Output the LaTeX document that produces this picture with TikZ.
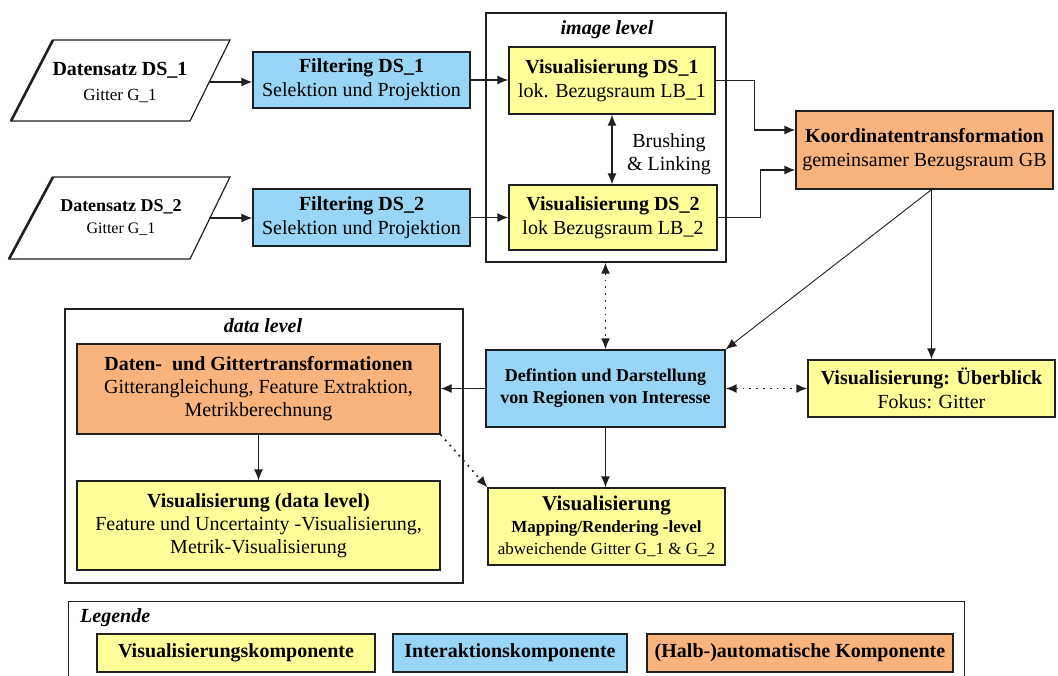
\documentclass[tikz,border=0pt]{standalone}
\usepackage{fontspec}
\setmainfont{Liberation Serif}
\usetikzlibrary{arrows.meta,calc}
\definecolor{cyel}{HTML}{FFFF99}
\definecolor{cblu}{HTML}{99D5F7}
\definecolor{cora}{HTML}{F9B47D}
\definecolor{cline}{HTML}{202020}
\newcommand{\fs}[2]{\fontsize{#1}{#2}\selectfont}
\tikzset{
  base/.style={draw=cline, line width=1.3pt, align=center, inner sep=0pt, font=\fs{20}{24}},
  yel/.style={base, fill=cyel},
  blu/.style={base, fill=cblu},
  ora/.style={base, fill=cora},
  frame/.style={draw=cline, line width=1.2pt},
  arr/.style={draw=cline, line width=1.3pt, -{Latex[length=11pt,width=9pt]}},
  darr/.style={draw=cline, line width=1.3pt, {Latex[length=11pt,width=9pt]}-{Latex[length=11pt,width=9pt]}},
  dotted2/.style={line width=1.6pt, dash pattern=on 1.8pt off 5pt},
  ttl/.style={font=\fs{20}{24}\bfseries\itshape, inner sep=0pt},
  txt/.style={inner sep=0pt, align=center}
}
\begin{document}
\begin{tikzpicture}[x=1pt,y=-1pt]
\useasboundingbox (0,0) rectangle (1058,675);
\clip (0,0) rectangle (1058,675);
\fill[white] (0,0) rectangle (1058,675);

% group frames
\node[frame, minimum width=240pt, minimum height=249pt] (il) at (606,137.5) {};
\node[ttl] (ilt) at (607,30) {image level};
\node[frame, minimum width=398pt, minimum height=274pt] (dl) at (264,446) {};
\node[ttl] (dlt) at (263,326) {data level};

% data sets
\draw[cline, line width=1.2pt] (11,121) -- (53,40) -- (230,40) -- (190,121) -- cycle;
\draw[cline, line width=2.6pt] (11,121) -- (53,40);
\node[txt, font=\fs{17}{25}] (ds1) at (120,82) {{\fs{20}{25}\bfseries Datensatz DS\_1}\\Gitter G\_1};
\coordinate (ds1r) at (209,82);
\draw[cline, line width=1.2pt] (9,259) -- (53,177) -- (230,177) -- (190,259) -- cycle;
\draw[cline, line width=2.6pt] (9,259) -- (53,177);
\node[txt, font=\fs{16}{22}] (ds2) at (121,218) {{\fs{18}{22}\bfseries Datensatz DS\_2}\\Gitter G\_1};
\coordinate (ds2r) at (209,218);

% filtering
\node[blu, minimum width=217pt, minimum height=56pt] (f1) at (361.5,80) {\textbf{Filtering DS\_1}\\Selektion und Projektion};
\node[blu, minimum width=217pt, minimum height=57pt] (f2) at (361.5,217.5) {\textbf{Filtering DS\_2}\\Selektion und Projektion};

% visualisation image level
\node[yel, minimum width=206pt, minimum height=67pt] (v1) at (612,80.5) {\textbf{Visualisierung DS\_1}\\lok. Bezugsraum LB\_1};
\node[yel, minimum width=208pt, minimum height=65pt] (v2) at (613,217.5) {\textbf{Visualisierung DS\_2}\\lok Bezugsraum LB\_2};
\node[txt, font=\fs{20}{23}] (bl) at (669,154) {Brushing\\\& Linking};

% Koordinatentransformation
\node[ora, minimum width=257pt, minimum height=78pt] (kt) at (924.5,150) {\textbf{Koordinatentransformation}\\gemeinsamer Bezugsraum GB};

% Ueberblick
\node[yel, minimum width=247pt, minimum height=57pt] (ub) at (931.5,388.5) {\textbf{Visualisierung: Überblick}\\Fokus: Gitter};

% Definition
\node[blu, minimum width=239pt, minimum height=77pt, font=\fs{18}{22}\bfseries] (def) at (605.5,388.5) {Defintion und Darstellung\\von Regionen von Interesse};

% data level
\node[ora, minimum width=363pt, minimum height=90pt, font=\fs{20}{23}] (dg) at (258.5,389) {\textbf{Daten-\ \ und Gittertransformationen}\\Gitterangleichung, Feature Extraktion,\\Metrikberechnung};
\node[yel, minimum width=363pt, minimum height=89pt, font=\fs{20}{23}] (vd) at (258.5,525.5) {\textbf{Visualisierung (data level)}\\Feature und Uncertainty -Visualisierung,\\Metrik-Visualisierung};

% Mapping
\node[yel, minimum width=237pt, minimum height=77pt, font=\fs{17}{22}] (vm) at (606.5,526.5) {{\fs{21}{22}\bfseries Visualisierung}\\\textbf{Mapping/Rendering -level}\\abweichende Gitter G\_1 \& G\_2};

% connectors
\draw[arr] (ds1r) -- (ds1r -| f1.west);
\draw[arr] (ds2r) -- (ds2r -| f2.west);
\draw[arr] (f1.east) -- (f1.east -| v1.west);
\draw[arr] (f2.east) -- (f2.east -| v2.west);
\draw[darr] (v1.south) -- (v1.south |- v2.north);
\draw[arr] (v1.east) -- ++(39,0) |- ($(kt.west)+(0,-20)$);
\draw[arr] (v2.east) -- ++(43,0) |- ($(kt.west)+(0,20)$);
\draw[arr] (ub.north |- kt.south) -- (ub.north);
\draw[arr, line width=0.9pt] (ub.north |- kt.south) -- (def.north east);
\draw[darr, dotted2] (il.south -| def.north) -- (def.north);
\draw[darr, dotted2] (def.east) -- (def.east -| ub.west);
\draw[arr] (def.west) -- (def.west -| dg.east);
\draw[arr] (def.south) -- (def.south |- vm.north);
\draw[arr] (dg.south) -- (vd.north);
\draw[arr, dotted2] (dg.south east) -- (vm.north west);

% legend
\node[frame, minimum width=896pt, minimum height=110pt, anchor=north west] (lg) at (68,601) {};
\node[txt, font=\fs{20}{24}\bfseries\itshape, anchor=west] (lgt) at (80,618) {Legende};
\node[yel, minimum width=278pt, minimum height=38pt] (lv) at (236,653) {\textbf{Visualisierungskomponente}};
\node[blu, minimum width=234pt, minimum height=38pt] (lb) at (510,653) {\textbf{Interaktionskomponente}};
\node[ora, minimum width=306pt, minimum height=38pt] (lo) at (800,653) {\textbf{(Halb-)automatische Komponente}};
\end{tikzpicture}
\end{document}
